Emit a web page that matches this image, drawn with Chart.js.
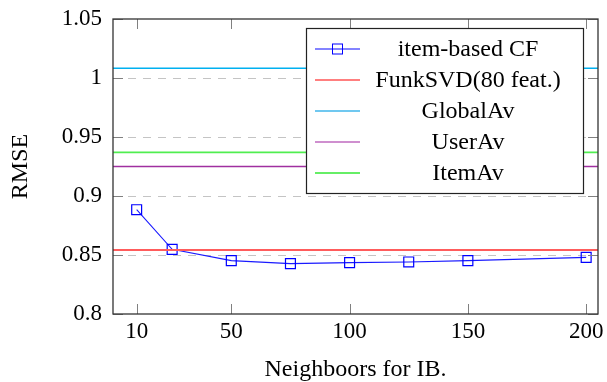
<!DOCTYPE html>
<html>
<head>
<meta charset="utf-8">
<script src="https://cdn.jsdelivr.net/npm/chart.js@4/dist/chart.umd.min.js"></script>
<style>
html,body{margin:0;padding:0;background:#fff;}
#wrap{width:607px;height:382px;}
</style>
</head>
<body>
<div id="wrap"><canvas id="c" width="607" height="382"></canvas></div>
<script>
// ---- data ----
const neighbors = [10, 25, 50, 75, 100, 125, 150, 200];
const itemBasedCF = [0.8884, 0.8548, 0.8452, 0.8427, 0.8435, 0.8441, 0.8452, 0.848];
const funkSVD = 0.8543;
const globalAv = 1.0082;
const userAv = 0.925;
const itemAv = 0.937;
const xRange = [0, 205];
const xTicks = [10, 50, 100, 150, 200];
const yTicks = [0.8, 0.85, 0.9, 0.95, 1, 1.05];
const seriesLabels = ['item-based CF', 'FunkSVD(80 feat.)', 'GlobalAv', 'UserAv', 'ItemAv'];

const FONT = 'Liberation Serif';
const hline = v => xRange.map(x => ({x: x, y: v}));

const legendStyles = [
  {line: '#5a5aff', w: 1.6, marker: '#0000ff'},
  {line: '#ff0000', w: 1.2},
  {line: '#70c8f0', w: 2},
  {line: '#a020a0', w: 1.2},
  {line: '#66ee66', w: 2}
];

const framePlugin = {
  id: 'frame',
  afterDatasetsDraw(chart) {
    const {ctx, chartArea: a, scales} = chart;
    ctx.save();
    ctx.strokeStyle = '#808080';
    ctx.lineWidth = 1;
    ctx.beginPath();
    xTicks.forEach(v => {
      const x = Math.round(scales.x.getPixelForValue(v)) + 0.5;
      ctx.moveTo(x, a.bottom); ctx.lineTo(x, a.bottom - 10);
      ctx.moveTo(x, a.top); ctx.lineTo(x, a.top + 10);
    });
    yTicks.forEach(v => {
      const y = Math.round(scales.y.getPixelForValue(v)) + 0.5;
      ctx.moveTo(a.left, y); ctx.lineTo(a.left + 10, y);
      ctx.moveTo(a.right, y); ctx.lineTo(a.right - 10, y);
    });
    ctx.stroke();
    ctx.strokeStyle = '#333';
    ctx.lineWidth = 1.3;
    ctx.strokeRect(a.left, a.top, a.right - a.left, a.bottom - a.top);

    // legend
    const bw = 277, bh = 165;
    const bx = a.right - 15 - bw, by = a.top + 9;
    ctx.fillStyle = '#fff';
    ctx.fillRect(bx, by, bw, bh);
    ctx.strokeStyle = '#222';
    ctx.lineWidth = 1.2;
    ctx.strokeRect(bx + 0.5, by + 0.5, bw, bh);
    ctx.font = '24px "' + FONT + '"';
    ctx.textAlign = 'center';
    ctx.textBaseline = 'middle';
    chart.data.datasets.forEach((ds, i) => {
      const st = legendStyles[i];
      const cy = by + 21 + i * 31;
      ctx.strokeStyle = st.line;
      ctx.lineWidth = st.w;
      ctx.beginPath();
      ctx.moveTo(bx + 9, cy); ctx.lineTo(bx + 54, cy);
      ctx.stroke();
      if (st.marker) {
        ctx.strokeStyle = st.marker;
        ctx.lineWidth = 1;
        ctx.strokeRect(bx + 31.5 - 5, cy - 5, 10, 10);
      }
      ctx.fillStyle = '#000';
      ctx.fillText(ds.label, bx + 162, cy + 1);
    });
    ctx.restore();
  }
};

new Chart(document.getElementById('c'), {
  type: 'line',
  data: {
    datasets: [
      {
        label: seriesLabels[0],
        data: neighbors.map((x, i) => ({x: x, y: itemBasedCF[i]})),
        borderColor: '#1a1aff', borderWidth: 1.1,
        pointStyle: 'rect', pointRadius: 7, pointBorderWidth: 1.2,
        pointBorderColor: '#0000ff', pointBackgroundColor: 'rgba(0,0,0,0)',
        tension: 0, order: 5
      },
      {label: seriesLabels[1], data: hline(funkSVD), borderColor: '#ff5c5c', borderWidth: 2, pointRadius: 0, order: 1},
      {label: seriesLabels[2], data: hline(globalAv), borderColor: '#00b0f0', borderWidth: 1.6, pointRadius: 0, order: 2},
      {label: seriesLabels[3], data: hline(userAv), borderColor: '#a030a0', borderWidth: 1.6, pointRadius: 0, order: 3},
      {label: seriesLabels[4], data: hline(itemAv), borderColor: '#50ee50', borderWidth: 1.8, pointRadius: 0, order: 4}
    ]
  },
  options: {
    responsive: false,
    animation: false,
    events: [],
    layout: {padding: {top: 19, right: 9, left: 0, bottom: 0}},
    plugins: {legend: {display: false}, tooltip: {enabled: false}},
    scales: {
      x: {
        type: 'linear', min: xRange[0], max: xRange[1],
        afterBuildTicks: s => { s.ticks = xTicks.map(v => ({value: v})); },
        afterFit: s => { s.height = 68; s.paddingLeft = 0; s.paddingRight = 0; },
        grid: {display: false, drawTicks: false},
        border: {display: false},
        ticks: {font: {family: FONT, size: 23}, color: '#000', padding: 4, maxRotation: 0, autoSkip: false,
                callback: v => String(v)},
        title: {display: true, text: 'Neighboors for IB.', color: '#000',
                font: {family: FONT, size: 24, lineHeight: 1}, padding: {top: 0, bottom: 0}}
      },
      y: {
        type: 'linear', min: yTicks[0], max: yTicks[yTicks.length - 1],
        afterBuildTicks: s => { s.ticks = yTicks.map(v => ({value: v})); },
        afterFit: s => { s.width = 113; s.paddingTop = 0; s.paddingBottom = 0; },
        grid: {
          drawTicks: false,
          color: c => (c.index === 0 || c.index === yTicks.length - 1) ? 'rgba(0,0,0,0)' : '#c4c4c4',
          lineWidth: 1
        },
        border: {display: false, dash: [8, 7]},
        ticks: {font: {family: FONT, size: 23}, color: '#000', padding: 11, autoSkip: false,
                callback: v => String(+v.toFixed(2))},
        title: {display: true, text: 'RMSE', color: '#000',
                font: {family: FONT, size: 24, lineHeight: 1}, padding: {top: 9, bottom: 0}}
      }
    }
  },
  plugins: [framePlugin]
});
</script>
</body>
</html>
